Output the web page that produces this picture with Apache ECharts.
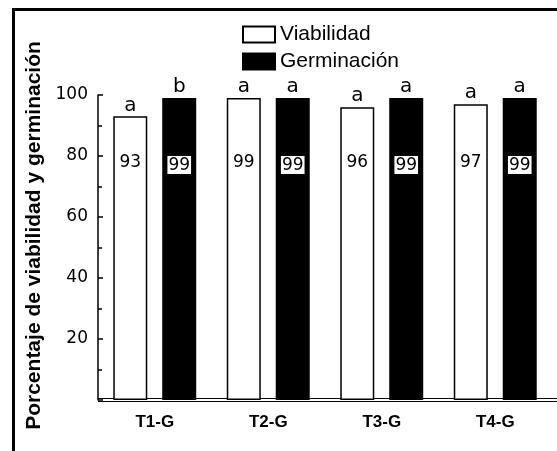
<!DOCTYPE html>
<html>
<head>
<meta charset="utf-8">
<script src="https://cdn.jsdelivr.net/npm/echarts@6/dist/echarts.min.js"></script>
<style>
  html, body { margin: 0; padding: 0; background: #fff; }
  #chart { width: 557px; height: 451px; }
</style>
</head>
<body>
<div id="chart"></div>
<script>
// datos
var categorias = ['T1-G', 'T2-G', 'T3-G', 'T4-G'];
var viabilidad = [93, 99, 96, 97];
var germinacion = [99, 99, 99, 99];
var letrasViab = ['a', 'a', 'a', 'a'];
var letrasGerm = ['b', 'a', 'a', 'a'];
var yTicks = [20, 40, 60, 80, 100];

var chart = echarts.init(document.getElementById('chart'));

var gridBox = { left: 98, right: 5, top: 95, bottom: 51 };
var barW = 34;
var gap = '44%';

// eje y comun
function makeY(idx, visible) {
    return {
        type: 'value', gridIndex: idx, min: 0, max: 100, interval: 20,
        show: visible,
        name: visible ? 'Porcentaje de viabilidad y germinación' : '',
        nameLocation: 'middle',
        nameGap: 50,
        nameTextStyle: {
            fontFamily: 'Liberation Sans', fontWeight: 'bold', fontSize: 21, color: '#000',
            padding: [0, 0, 0, 24]
        },
        axisLine: { show: true, lineStyle: { color: '#000', width: 1.5 } },
        axisTick: { show: true, inside: true, length: 5, lineStyle: { color: '#000', width: 1.5 } },
        minorTick: { show: true, splitNumber: 2, length: 4, lineStyle: { color: '#000', width: 1.5 } },
        splitLine: { show: false },
        axisLabel: {
            margin: 10, fontFamily: 'DejaVu Sans', fontSize: 17, color: '#000',
            formatter: function (v) { return yTicks.indexOf(v) >= 0 ? String(v) : ''; }
        }
    };
}

var option = {
    backgroundColor: '#fff',
    animation: false,
    legend: {
        orient: 'vertical', left: 237, top: 19,
        itemWidth: 32, itemHeight: 16, itemGap: 6,
        icon: 'rect',
        textStyle: { fontFamily: 'Liberation Sans', fontSize: 21, color: '#000' },
        data: ['Viabilidad', 'Germinación']
    },
    grid: [
        Object.assign({}, gridBox),
        Object.assign({}, gridBox)
    ],
    xAxis: [
        {
            type: 'category', gridIndex: 0, data: categorias,
            axisLine: { show: false }, axisTick: { show: false },
            axisLabel: { margin: 14, fontFamily: 'Liberation Sans', fontWeight: 'bold', fontSize: 17, color: '#000' }
        },
        { type: 'category', gridIndex: 1, data: categorias, show: false }
    ],
    yAxis: [makeY(0, true), makeY(1, false)],
    series: [
        {
            name: 'Viabilidad', type: 'bar', xAxisIndex: 0, yAxisIndex: 0,
            barWidth: barW, barGap: gap, data: viabilidad,
            itemStyle: { color: '#fff', borderColor: '#000', borderWidth: 1.5 },
            label: {
                show: true, position: 'insideBottom', distance: 229,
                fontFamily: 'DejaVu Sans', fontSize: 17, color: '#000'
            }
        },
        {
            name: 'Germinación', type: 'bar', xAxisIndex: 0, yAxisIndex: 0,
            barWidth: barW, barGap: gap, data: germinacion,
            itemStyle: { color: '#000', borderColor: '#000', borderWidth: 1.5 },
            label: {
                show: true, position: 'insideBottom', distance: 226,
                fontFamily: 'DejaVu Sans', fontSize: 17, color: '#000',
                backgroundColor: '#fff', padding: [1, 1, 0, 1]
            }
        },
        // letras de significancia encima de las barras
        {
            name: 'letrasV', type: 'bar', xAxisIndex: 1, yAxisIndex: 1,
            barWidth: barW, barGap: gap, data: viabilidad, silent: true,
            itemStyle: { color: 'rgba(0,0,0,0)' },
            label: {
                show: true, position: 'top', distance: 1,
                fontFamily: 'DejaVu Sans', fontSize: 20, color: '#000',
                formatter: function (p) { return letrasViab[p.dataIndex]; }
            }
        },
        {
            name: 'letrasG', type: 'bar', xAxisIndex: 1, yAxisIndex: 1,
            barWidth: barW, barGap: gap, data: germinacion, silent: true,
            itemStyle: { color: 'rgba(0,0,0,0)' },
            label: {
                show: true, position: 'top', distance: 1,
                fontFamily: 'DejaVu Sans', fontSize: 20, color: '#000',
                formatter: function (p) { return letrasGerm[p.dataIndex]; }
            }
        }
    ]
};
chart.setOption(option);

// marco y doble linea base
var y0 = chart.convertToPixel({ yAxisIndex: 0 }, 0);
var x0 = chart.convertToPixel({ xAxisIndex: 0 }, 0) - 56.75;
chart.setOption({
    graphic: [
        { type: 'rect', shape: { x: 13.5, y: 9.5, width: 700, height: 600 },
          style: { fill: null, stroke: '#000', lineWidth: 3 } },
        { type: 'line', shape: { x1: x0, y1: y0 - 1.5, x2: 557, y2: y0 - 1.5 },
          style: { stroke: '#000', lineWidth: 1 } },
        { type: 'line', shape: { x1: x0, y1: y0 + 1.5, x2: 557, y2: y0 + 1.5 },
          style: { stroke: '#000', lineWidth: 1 } }
    ]
});
</script>
</body>
</html>
